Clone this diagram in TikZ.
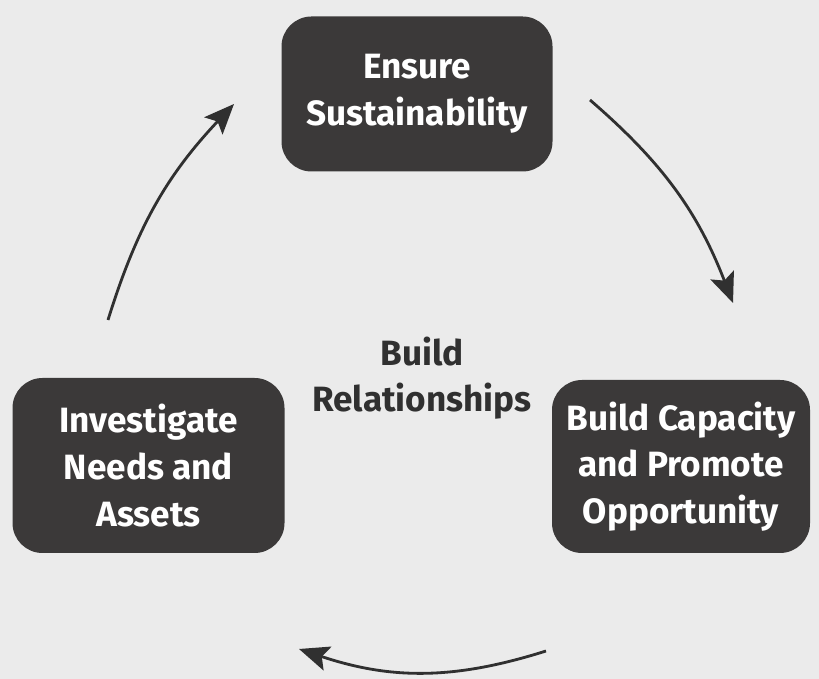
\documentclass[tikz,border=0pt]{standalone}
\usepackage{fontspec}
\setmainfont{Fira Sans}
\usetikzlibrary{arrows.meta}
\definecolor{paper}{HTML}{EBEBEB}
\definecolor{boxfill}{HTML}{3B3939}
\definecolor{ink}{HTML}{303030}
\tikzset{
  stage/.style={rectangle, fill=boxfill, rounded corners=6mm, text=white,
                font=\fontsize{20}{26.5}\selectfont\bfseries, align=center, inner sep=0pt},
  hub/.style={text=ink, font=\fontsize{20}{26.5}\selectfont\bfseries, align=center},
  cyc/.style={-{Stealth[length=6mm, width=5mm, inset=1.2mm]}, line width=1.6pt, draw=ink},
}

\begin{document}
\begin{tikzpicture}
    \fill[paper] (0,0) rectangle (16.38,13.58);
    \useasboundingbox (0,0) rectangle (16.38,13.58);
    % the three stages
    \node[stage, minimum width=5.42cm, minimum height=3.1cm] (ensure) at (8.34,11.70) {Ensure\\Sustainability};
    \node[stage, minimum width=5.44cm, minimum height=3.5cm] (invest) at (2.97,4.27) {Investigate\\Needs and\\Assets};
    \node[stage, minimum width=5.16cm, minimum height=3.46cm] (capac) at (13.62,4.25) {Build Capacity\\and Promote\\Opportunity};
    \node[hub] (relat) at (8.44,6.02) {Build\\Relationships};
    % arrow ends
    \coordinate (e1) at (11.8,11.58);
    \coordinate (c1) at (14.66,7.52);
    \coordinate (c2) at (10.92,0.56);
    \coordinate (i2) at (5.98,0.60);
    \coordinate (i3) at (2.16,7.18);
    \coordinate (e3) at (4.68,11.5);
    \draw[cyc] (e1) to[bend left=14] (c1);
    \draw[cyc] (c2) to[bend left=18] (i2);
    \draw[cyc] (i3) to[bend left=13] (e3);
\end{tikzpicture}
\end{document}
